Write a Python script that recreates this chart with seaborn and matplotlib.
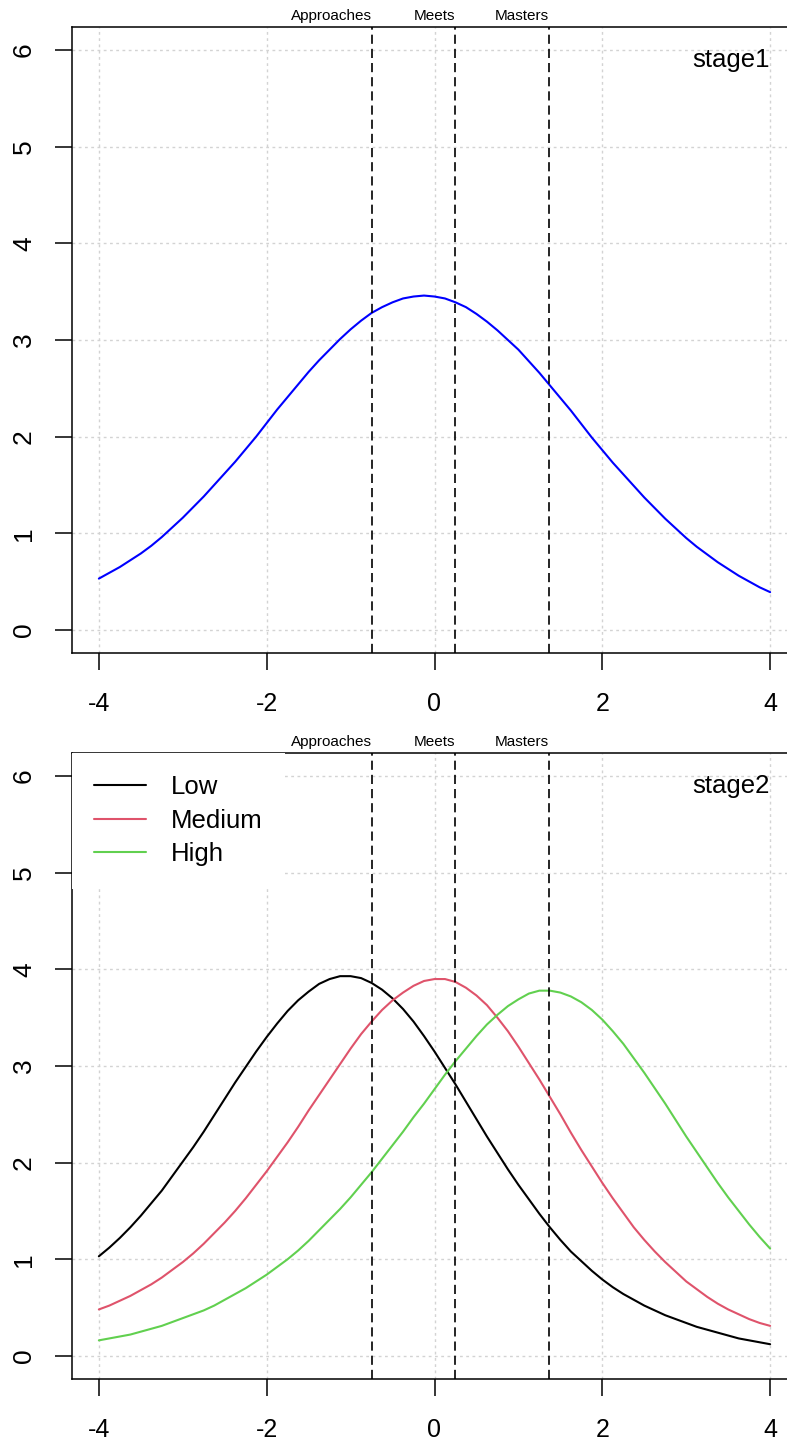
import numpy as np
import pandas as pd
import matplotlib
matplotlib.use("Agg")
import matplotlib.pyplot as plt
from matplotlib.lines import Line2D
import seaborn as sns

# Ability grid (step 0.125) and test information values
theta = np.linspace(-4, 4, 65)

stage1_info = [0.53, 0.59, 0.65, 0.72, 0.79, 0.87, 0.96, 1.06, 1.16, 1.27,
               1.38, 1.50, 1.62, 1.74, 1.87, 2.00, 2.14, 2.28, 2.41, 2.54,
               2.67, 2.79, 2.90, 3.01, 3.11, 3.20, 3.28, 3.34, 3.39, 3.43,
               3.45, 3.46, 3.45, 3.43, 3.39, 3.34, 3.27, 3.19, 3.10, 3.00,
               2.90, 2.78, 2.66, 2.53, 2.40, 2.27, 2.13, 1.99, 1.86, 1.73,
               1.61, 1.49, 1.37, 1.26, 1.15, 1.05, 0.95, 0.86, 0.78, 0.70,
               0.63, 0.56, 0.50, 0.44, 0.39]

low_info = [1.03, 1.12, 1.22, 1.33, 1.45, 1.58, 1.71, 1.86, 2.01, 2.16,
            2.32, 2.49, 2.66, 2.83, 2.99, 3.15, 3.30, 3.44, 3.57, 3.68,
            3.77, 3.85, 3.90, 3.93, 3.93, 3.91, 3.86, 3.79, 3.70, 3.59,
            3.46, 3.31, 3.15, 2.98, 2.81, 2.63, 2.45, 2.27, 2.10, 1.93,
            1.77, 1.62, 1.47, 1.33, 1.20, 1.08, 0.98, 0.88, 0.79, 0.71,
            0.64, 0.58, 0.52, 0.47, 0.42, 0.38, 0.34, 0.30, 0.27, 0.24,
            0.21, 0.18, 0.16, 0.14, 0.12]

medium_info = [0.48, 0.52, 0.57, 0.62, 0.68, 0.74, 0.81, 0.89, 0.97, 1.06,
               1.16, 1.27, 1.38, 1.50, 1.63, 1.77, 1.91, 2.06, 2.21, 2.37,
               2.54, 2.70, 2.86, 3.02, 3.18, 3.33, 3.46, 3.58, 3.68, 3.76,
               3.83, 3.88, 3.90, 3.90, 3.87, 3.81, 3.73, 3.63, 3.50, 3.36,
               3.20, 3.03, 2.86, 2.68, 2.50, 2.31, 2.13, 1.96, 1.79, 1.63,
               1.48, 1.33, 1.20, 1.08, 0.97, 0.87, 0.77, 0.69, 0.61, 0.54,
               0.48, 0.43, 0.38, 0.34, 0.31]

high_info = [0.16, 0.18, 0.20, 0.22, 0.25, 0.28, 0.31, 0.35, 0.39, 0.43,
             0.47, 0.52, 0.58, 0.64, 0.70, 0.77, 0.84, 0.92, 1.00, 1.09,
             1.19, 1.30, 1.41, 1.52, 1.64, 1.77, 1.90, 2.04, 2.18, 2.32,
             2.47, 2.61, 2.76, 2.91, 3.05, 3.18, 3.31, 3.43, 3.53, 3.62,
             3.69, 3.75, 3.78, 3.78, 3.76, 3.72, 3.66, 3.58, 3.48, 3.36,
             3.23, 3.08, 2.93, 2.77, 2.61, 2.44, 2.27, 2.11, 1.95, 1.79,
             1.64, 1.50, 1.36, 1.23, 1.11]

levels = ["Low", "Medium", "High"]
level_colors = ["#000000", "#DF536B", "#61D04F"]

cut_points = [-0.74, 0.25, 1.36]
cut_labels = ["Approaches", "Meets", "Masters"]

x_ticks = [-4, -2, 0, 2, 4]
y_ticks = [0, 1, 2, 3, 4, 5, 6]

stage1_df = pd.DataFrame({"theta": theta, "info": stage1_info})
stage2_df = pd.concat(
    [pd.DataFrame({"theta": theta, "info": vals, "group": name})
     for name, vals in zip(levels, [low_info, medium_info, high_info])],
    ignore_index=True,
)

sns.set_style("white")
plt.rcParams.update({
    "font.family": ["Liberation Sans", "DejaVu Sans"],
    "axes.unicode_minus": False,
    "text.color": "black",
    "axes.labelcolor": "black",
})

W, H = 787, 1443
fig = plt.figure(figsize=(W / 100, H / 100), dpi=100)
ax1 = fig.add_axes([72 / W, 1 - 653 / H, 725 / W, 626 / H])
ax2 = fig.add_axes([72 / W, 1 - 1379 / H, 725 / W, 626 / H])


def style_panel(ax, name):
    ax.set_xlim(-4.32, 4.32)
    ax.set_ylim(-0.24, 6.24)
    ax.set_xticks(x_ticks)
    ax.set_xticklabels([str(t) for t in x_ticks])
    ax.set_yticks(y_ticks)
    ax.set_yticklabels([str(t) for t in y_ticks])
    ax.set_xlabel("")
    ax.set_ylabel("")
    ax.set_axisbelow(True)
    ax.grid(True, color="#d3d3d3", linewidth=1.0, linestyle=(0, (2, 2.5)))
    for sp in ax.spines.values():
        sp.set_visible(True)
        sp.set_color("black")
        sp.set_linewidth(1.1)
    ax.tick_params(bottom=True, left=True, direction="out", length=12,
                   width=1.1, colors="black")
    ax.tick_params(axis="x", pad=16, labelsize=18)
    ax.tick_params(axis="y", pad=14, labelsize=19, labelrotation=90)
    for lab in ax.get_yticklabels():
        lab.set_verticalalignment("center")
    for v, lab in zip(cut_points, cut_labels):
        ax.axvline(v, color="black", linewidth=1.2, linestyle=(0, (5.5, 3)),
                   zorder=4)
        ax.annotate(lab, xy=(v, 1.0), xycoords=ax.get_xaxis_transform(),
                    xytext=(0, 5), textcoords="offset points",
                    ha="right", va="baseline", fontsize=11, color="black",
                    annotation_clip=False)
    ax.text(3.99, 5.9, name, ha="right", va="center", fontsize=18.5,
            color="black")


sns.lineplot(data=stage1_df, x="theta", y="info", color="#0000FF",
             linewidth=1.5, ax=ax1, zorder=3)
style_panel(ax1, "stage1")

sns.lineplot(data=stage2_df, x="theta", y="info", hue="group",
             hue_order=levels, palette=level_colors, linewidth=1.5,
             legend=False, ax=ax2, zorder=3)
style_panel(ax2, "stage2")

handles = [Line2D([], [], color=c, linewidth=1.5) for c in level_colors]
leg = ax2.legend(handles, levels, loc="upper left", bbox_to_anchor=(0, 1),
                 borderaxespad=0, frameon=True, fancybox=False,
                 facecolor="white", edgecolor="none", framealpha=1,
                 fontsize=18.5, handlelength=2.0, handletextpad=0.97,
                 borderpad=0.87, labelspacing=0.37)
for t in leg.get_texts():
    t.set_color("black")
leg.set_zorder(5)

fig.savefig("out.png", dpi=100, facecolor="white")
